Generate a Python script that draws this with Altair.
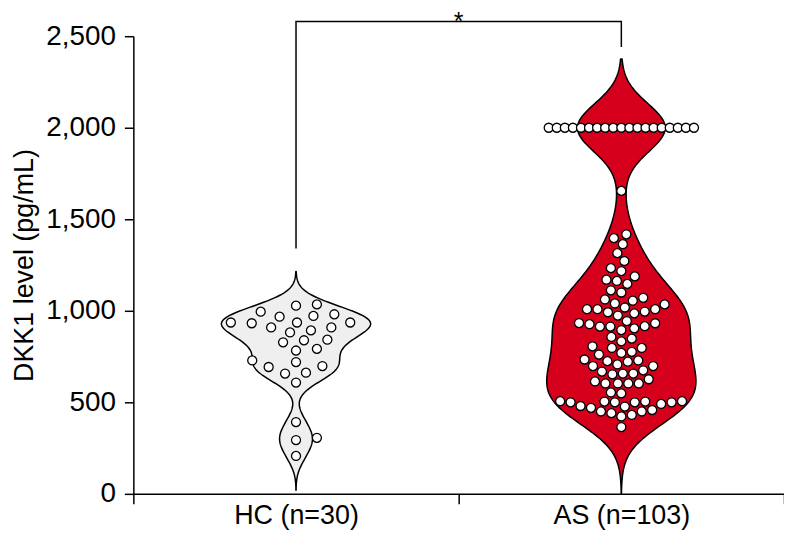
import altair as alt
import numpy as np
import pandas as pd

# ---------------- data ----------------
groups = ["HC (n=30)", "AS (n=103)"]
group_fill = ["#efefef", "#d6001c"]

hc_values = [1035, 972, 909, 842, 792, 729, 657,
             932, 882, 828, 698, 608, 392, 294, 207,
             1028, 968, 893, 839, 783, 306,
             981, 909, 720, 662,
             995, 936,
             936, 936, 693]

as_values = [2000, 2000, 2000, 2000, 2000, 2000, 2000, 2000, 2000, 2000,
             2000, 2000, 2000, 2000, 2000, 2000, 2000, 2000, 2000,
             1655,
             1418, 1397, 1364, 1315, 1272, 1233, 1217, 1188, 1170, 1163,
             1147, 1112, 1100, 1071, 1062, 1055, 1040, 1035,
             1018, 1009, 1009, 1009, 996, 992, 986, 974,
             944, 933, 932, 927, 916, 914, 914, 904, 895,
             857, 848, 833, 806, 797, 797, 776, 770, 761,
             734, 729, 725, 722, 707, 698, 698,
             675, 668, 657, 657, 653, 626, 614, 603, 603, 603, 603,
             554, 549, 506, 506, 504, 504, 500, 500, 500, 500, 491, 480, 477, 470,
             458, 450, 450, 441, 431, 423, 365]

y_ticks = [0, 500, 1000, 1500, 2000, 2500]
y_title = "DKK1 level (pg/mL)"

# violin KDE settings (bandwidth, extent) per group
violin_bw = [62, 132]
violin_extent = [[20, 1215], [0, 2375]]

# significance bracket (data units)
bracket_x = [0.5, 0.5, 1.5, 1.5]
bracket_y = [1345, 2580, 2580, 2445]
sig_label = "*"

# ---------------- layout ----------------
W, H = 654, 460
Y_MAX = 2500
FONT = "Liberation Sans"
HALF_PX = 75.0                 # max half-width of each violin in px
UNIT_PX = W / 2.0              # px per x unit (domain 0..2)
HALF = HALF_PX / UNIT_PX
PPU = H / Y_MAX                # px per y unit
SWARM_DX = [21.0, 10.5]        # horizontal spacing of swarm per group (px)
SWARM_DY = 10.5                # vertical collision distance (px)


def swarm(vals, half, dxm, dym):
    vals = np.asarray(vals, float)
    off = np.full(len(vals), np.nan)
    ypx = vals * PPU
    uniq, counts = np.unique(vals, return_counts=True)
    for u, c in zip(uniq, counts):
        if c * dym > 2 * half:
            idx = np.where(vals == u)[0]
            off[idx] = np.linspace(-half, half, c)
    steps = np.arange(0.5, half + 0.01, 0.5)
    base = np.concatenate([[0.0], np.ravel(np.column_stack([steps, -steps]))])
    order = np.argsort(vals, kind="stable")
    k = 0
    for i in order:
        if not np.isnan(off[i]):
            continue
        cand = base if k % 2 == 0 else -base
        k += 1
        placed = ~np.isnan(off)
        dy = ypx[placed] - ypx[i]
        near = np.abs(dy) < dym
        pxs = off[placed][near]
        pys = dy[near]
        best, fb, fbd = None, 0.0, -1.0
        for c in cand:
            if pxs.size == 0:
                best = c
                break
            d = np.min(((pxs - c) / dxm) ** 2 + (pys / dym) ** 2)
            if d >= 1.0:
                best = c
                break
            if d > fbd:
                fbd, fb = d, c
        off[i] = fb if best is None else best
    return off


rows = []
for gi, (g, vals) in enumerate(zip(groups, [hc_values, as_values])):
    offs = swarm(vals, 73.0, SWARM_DX[gi], SWARM_DY)
    for v, o in zip(vals, offs):
        rows.append({"group": g, "value": v, "center": gi + 0.5,
                     "px": gi + 0.5 + o / UNIT_PX})
points = pd.DataFrame(rows)

bracket_df = pd.DataFrame({"x": bracket_x, "y": bracket_y,
                           "ord": list(range(len(bracket_x)))})
sig_df = pd.DataFrame({"x": [(bracket_x[0] + bracket_x[-1]) / 2],
                       "y": [max(bracket_y)], "t": [sig_label]})

xscale = alt.Scale(domain=[0, 2], nice=False, zero=False)
yscale = alt.Scale(domain=[0, Y_MAX], nice=False)

label_expr = " : ".join(
    [f"datum.value == {i} ? '{g}'" for i, g in enumerate(groups)]) + " : ''"

xaxis = alt.Axis(values=[0, 1, 2], labelExpr=label_expr, labelOffset=W / 4,
                 labelFlush=False, labelOverlap=False, tickSize=10,
                 labelPadding=-1, grid=False, title=None, labelFontSize=27)
yaxis = alt.Axis(values=y_ticks, format=",d", tickSize=9, labelPadding=9,
                 grid=False, title=y_title, titlePadding=7,
                 labelFontSize=28, titleFontSize=27)


def X(field):
    return alt.X(field, type="quantitative", scale=xscale, axis=xaxis)


def Y(field):
    return alt.Y(field, type="quantitative", scale=yscale, axis=yaxis)


layers = []
for gi, g in enumerate(groups):
    c = gi + 0.5
    v = (alt.Chart(points)
         .transform_filter(alt.datum.group == g)
         .transform_density("value", as_=["value", "density"],
                            bandwidth=violin_bw[gi], extent=violin_extent[gi],
                            steps=300)
         .transform_joinaggregate(maxd="max(density)")
         .transform_calculate(
             left=f"{c} - datum.density / datum.maxd * {HALF}",
             right=f"{c} + datum.density / datum.maxd * {HALF}")
         .mark_area(orient="horizontal", fill=group_fill[gi], stroke="black",
                    strokeWidth=1.5, strokeJoin="round", opacity=1)
         .encode(y=Y("value"), x=X("left"), x2="right"))
    layers.append(v)

pts = (alt.Chart(points)
       .mark_point(shape="circle", filled=True, fill="white", stroke="black",
                   strokeWidth=1.3, size=82, opacity=1)
       .encode(x=X("px"), y=Y("value")))

bracket = (alt.Chart(bracket_df)
           .mark_line(color="black", strokeWidth=1.5, strokeCap="square")
           .encode(x=X("x"), y=Y("y"), order="ord:Q"))

sig = (alt.Chart(sig_df)
       .mark_text(fontSize=25, font=FONT, baseline="alphabetic", dy=8,
                  color="black")
       .encode(x=X("x"), y=Y("y"), text="t:N"))

chart = (alt.layer(*layers, pts, bracket, sig)
         .properties(width=W, height=H,
                     autosize=alt.AutoSizeParams(type="none"),
                     padding={"left": 126, "top": 27, "right": 0, "bottom": 40})
         .configure_view(stroke=None)
         .configure_axis(labelFont=FONT, titleFont=FONT,
                         titleFontWeight="normal",
                         labelColor="black", titleColor="black",
                         domainColor="black", tickColor="black",
                         domainWidth=1.5, tickWidth=1.5))

chart.save("out.html", embed_options={"renderer": "svg", "actions": False})
